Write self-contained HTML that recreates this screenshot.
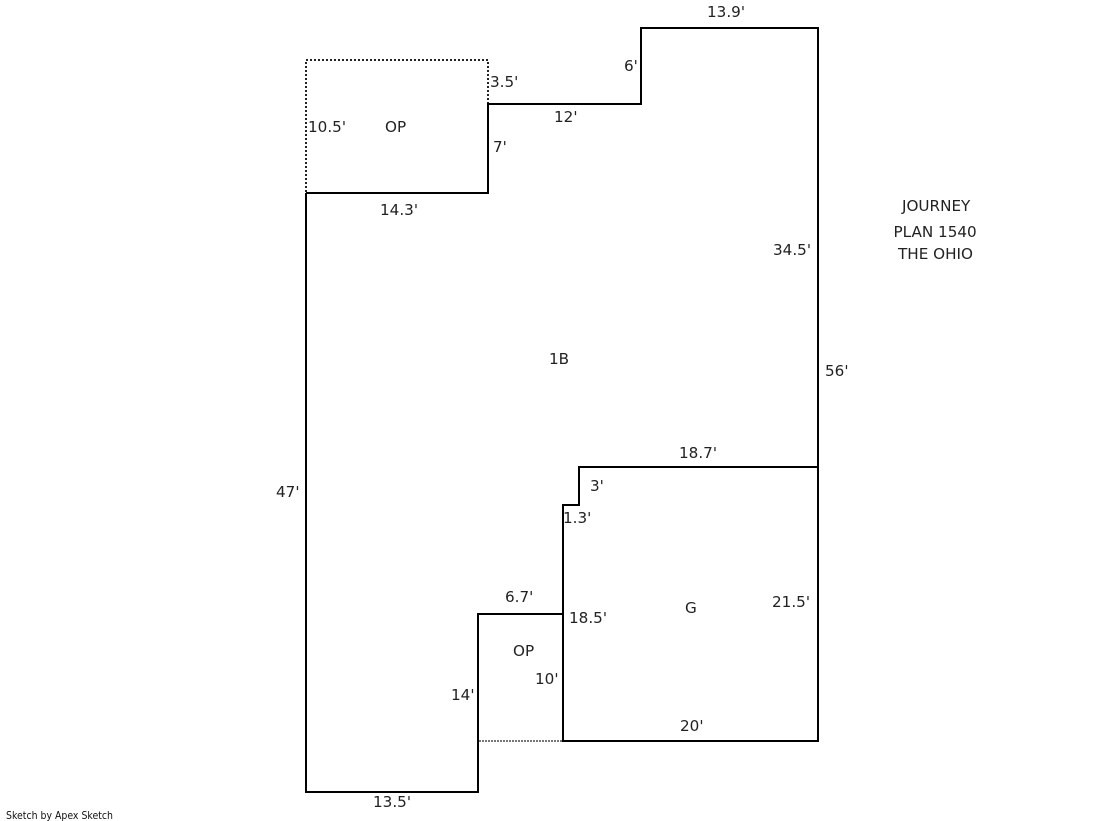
<!DOCTYPE html>
<html><head><meta charset="utf-8"><style>
html,body{margin:0;padding:0;background:#fff;width:1119px;height:821px;overflow:hidden}
svg{display:block}
text{font-family:"DejaVu Sans",sans-serif;font-size:15.2px;fill:#222}
.s{font-size:10.5px;fill:#111}
</style></head><body>
<svg width="1119" height="821" viewBox="0 0 1119 821" xmlns="http://www.w3.org/2000/svg">
<g fill="none" stroke="#000" stroke-width="2" shape-rendering="crispEdges">
<path d="M306 193H488V104H641V28H818V741H563V505H579V467H818"/>
<path d="M306 193V792H478V614H563"/>
<path d="M563 505V741"/>
</g>
<g fill="none" stroke="#222" stroke-width="2" stroke-dasharray="2 2" shape-rendering="crispEdges">
<path d="M306 192V60H488V103"/>
</g>
<path d="M479 741H562" stroke="#777" stroke-width="2" stroke-dasharray="2 1" shape-rendering="crispEdges"/>
<text x="707" y="17">13.9'</text>
<text x="624" y="71">6'</text>
<text x="490" y="87">3.5'</text>
<text x="554" y="122">12'</text>
<text x="308" y="132">10.5'</text>
<text x="385" y="132">OP</text>
<text x="493" y="152">7'</text>
<text x="380" y="215">14.3'</text>
<text x="902" y="211">JOURNEY</text>
<text x="893.5" y="237">PLAN 1540</text>
<text x="898" y="259">THE OHIO</text>
<text x="773" y="255">34.5'</text>
<text x="549" y="364">1B</text>
<text x="825" y="376">56'</text>
<text x="679" y="458">18.7'</text>
<text x="590" y="491">3'</text>
<text x="276" y="497">47'</text>
<text x="563" y="523">1.3'</text>
<text x="505" y="602">6.7'</text>
<text x="772" y="607">21.5'</text>
<text x="685" y="613">G</text>
<text x="569" y="623">18.5'</text>
<text x="513" y="656">OP</text>
<text x="535" y="684">10'</text>
<text x="451" y="700">14'</text>
<text x="680" y="731">20'</text>
<text x="373" y="807">13.5'</text>
<text class="s" x="6" y="819" textLength="107" lengthAdjust="spacingAndGlyphs">Sketch by Apex Sketch</text>
</svg>
</body></html>
